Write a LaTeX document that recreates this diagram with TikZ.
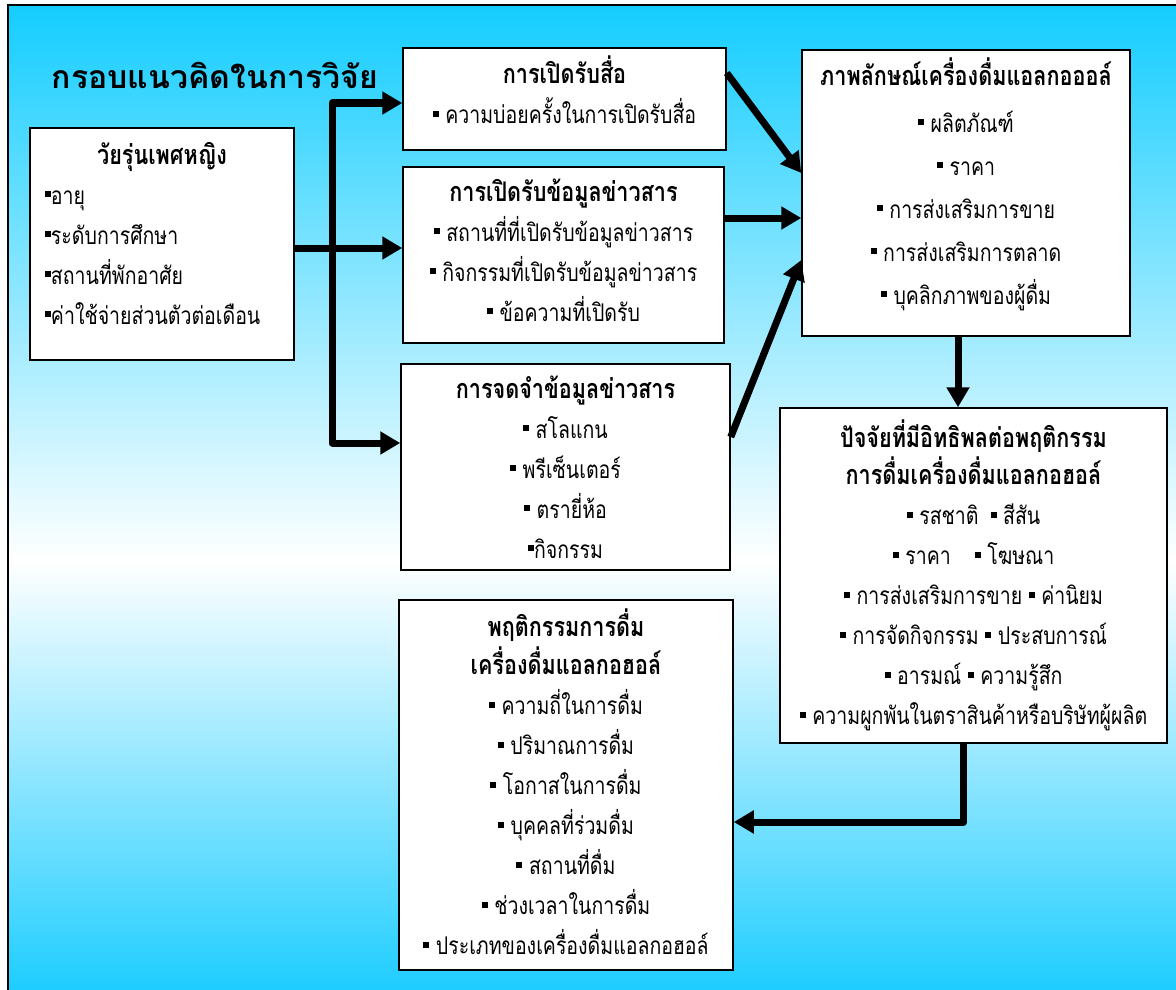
\documentclass[tikz,border=0pt]{standalone}
\usepackage{fontspec}
\setmainfont[Script=Thai, FakeStretch=0.8]{Loma}
\newfontfamily\titlefont[Script=Thai]{Loma}
\usetikzlibrary{arrows.meta,calc,positioning}

\definecolor{skytop}{RGB}{20,205,255}
\definecolor{skybot}{RGB}{30,205,255}

\tikzset{
  box/.style={draw, line width=1.5pt, fill=white, align=center, inner sep=0pt,
    font=\fontsize{24.4}{40}\selectfont},
  arr/.style={line width=7pt, line join=round, -{Triangle[length=20pt,width=22pt]}},
}
\newcommand{\sqb}{\rule[7pt]{6pt}{6pt}}
\newcommand{\hd}[1]{{\fontsize{27}{40}\selectfont\bfseries #1}}
\newcommand{\lift}[1]{\rule[-#1]{0pt}{0pt}}

\begin{document}
\begin{tikzpicture}[x=1pt, y=-1pt]
  \useasboundingbox (0,0) rectangle (1176,990);

  % Background
  \shade[top color=skytop, bottom color=white] (8,5) rectangle (1176,560);
  \shade[top color=white, bottom color=skybot] (8,560) rectangle (1176,990);
  \draw[line width=2pt] (8,990) -- (8,5) -- (1176,5);

  % Title
  \node[font=\titlefont\bfseries\fontsize{32}{36}\selectfont] (title) at (215,75) {กรอบแนวคิดในการวิจัย};

  % Boxes
  \node[box, align=left, text width=234pt, inner xsep=15pt, minimum height=232pt] (girl) at (162,244)
    {\makebox[234pt]{\hd{วัยรุ่นเพศหญิง}}\\
     \sqb อายุ\\ \sqb ระดับการศึกษา\\ \sqb สถานที่พักอาศัย\\ \sqb ค่าใช้จ่ายส่วนตัวต่อเดือน\lift{22pt}};

  \node[box, minimum width=323pt, minimum height=102pt] (media) at (564.5,99)
    {\hd{การเปิดรับสื่อ}\\ \sqb{} ความบ่อยครั้งในการเปิดรับสื่อ\lift{18pt}};

  \node[box, minimum width=321pt, minimum height=176pt] (info) at (563.5,255)
    {\hd{การเปิดรับข้อมูลข่าวสาร}\\ \sqb{} สถานที่ที่เปิดรับข้อมูลข่าวสาร\\
     \sqb{} กิจกรรมที่เปิดรับข้อมูลข่าวสาร\\ \sqb{} ข้อความที่เปิดรับ\lift{10pt}};

  \node[box, minimum width=329pt, minimum height=206pt] (recall) at (565.5,467)
    {\hd{การจดจำข้อมูลข่าวสาร}\\ \sqb{} สโลแกน\\ \sqb{} พรีเซ็นเตอร์\\ \sqb{} ตรายี่ห้อ\\ \sqb กิจกรรม};

  \node[box, minimum width=328pt, minimum height=286pt, font=\fontsize{24.4}{43}\selectfont] (image) at (966,193)
    {\hd{ภาพลักษณ์เครื่องดื่มแอลกอออล์}\\[4pt] \sqb{} ผลิตภัณฑ์\\ \sqb{} ราคา\\
     \sqb{} การส่งเสริมการขาย\\ \sqb{} การส่งเสริมการตลาด\\ \sqb{} บุคลิกภาพของผู้ดื่ม\lift{24pt}};

  \node[box, minimum width=387pt, minimum height=335pt] (factor) at (973.5,575.5)
    {\hd{ปัจจัยที่มีอิทธิพลต่อพฤติกรรม}\\[-3pt] \hd{การดื่มเครื่องดื่มแอลกอฮอล์}\\
     \sqb{} รสชาติ\hspace{12pt}\sqb{} สีสัน\\ \sqb{} ราคา\hspace{24pt}\sqb{} โฆษณา\\
     \sqb{} การส่งเสริมการขาย \sqb{} ค่านิยม\\ \sqb{} การจัดกิจกรรม \sqb{} ประสบการณ์\\
     \sqb{} อารมณ์ \sqb{} ความรู้สึก\\ \sqb{} ความผูกพันในตราสินค้าหรือบริษัทผู้ผลิต\lift{4pt}};

  \node[box, minimum width=334pt, minimum height=370pt] (drink) at (566,785)
    {\hd{พฤติกรรมการดื่ม}\\[-2pt] \hd{เครื่องดื่มแอลกอฮอล์}\\ \sqb{} ความถี่ในการดื่ม\\
     \sqb{} ปริมาณการดื่ม\\ \sqb{} โอกาสในการดื่ม\\ \sqb{} บุคคลที่ร่วมดื่ม\\ \sqb{} สถานที่ดื่ม\\
     \sqb{} ช่วงเวลาในการดื่ม\\ \sqb{} ประเภทของเครื่องดื่มแอลกอฮอล์\lift{6pt}};

  % Connectors
  \coordinate (bus) at (332,248);
  \draw[line width=7pt] (girl.east |- bus) -- (bus);
  \draw[arr] (bus) -- (info.west |- bus);
  \draw[arr] (bus) |- ([yshift=-4pt]media.west);
  \draw[arr] (bus) |- ([yshift=24pt]recall.west);

  \draw[arr] ([yshift=26pt]media.east) -- ([yshift=20pt]image.west);
  \draw[arr] (info.east |- image.west) ++(0,25) -- ([yshift=-25pt]image.west);
  \draw[arr] ([yshift=30pt]recall.east) -- ([yshift=-67pt]image.west);

  \draw[arr] ([xshift=-8pt]image.south) -- ([xshift=-8pt]image.south |- factor.north);
  \draw[arr] ([xshift=-10pt]factor.south) |- ([yshift=-37pt]drink.east);
\end{tikzpicture}
\end{document}
